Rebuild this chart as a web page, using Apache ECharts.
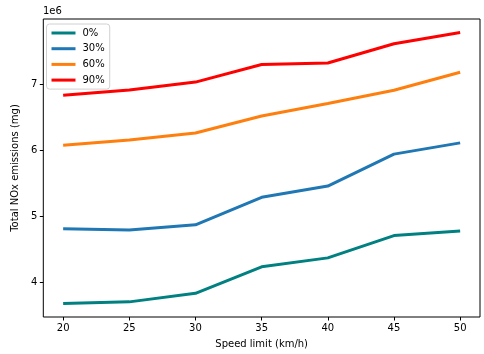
<!DOCTYPE html>
<html><head><meta charset="utf-8">
<script src="https://cdn.jsdelivr.net/npm/echarts@6/dist/echarts.min.js"></script>
<style>html,body{margin:0;padding:0;background:#fff}#c{width:484px;height:354px}</style>
</head><body><div id="c"></div>
<script>
const speeds = [20, 25, 30, 35, 40, 45, 50];
const xTicks = [20, 25, 30, 35, 40, 45, 50];
const yTicks = [4e6, 5e6, 6e6, 7e6];
const seriesNames = ['0%', '30%', '60%', '90%'];
const s0 = [3678000, 3704000, 3834000, 4235000, 4370000, 4707000, 4776000];
const s30 = [4810000, 4790000, 4870000, 5286000, 5457000, 5940000, 6110000];
const s60 = [6075000, 6155000, 6260000, 6516000, 6707000, 6907000, 7180000];
const s90 = [6830000, 6910000, 7030000, 7296000, 7320000, 7610000, 7780000];
const colors = ['#008080', '#1f77b4', '#ff7f0e', '#ff0000'];

const allData = [s0, s30, s60, s90];
const font = 'DejaVu Sans';
const chart = echarts.init(document.getElementById('c'), null, {renderer: 'canvas'});
chart.setOption({
  animation: false,
  textStyle: {fontFamily: font},
  grid: {left: 43.3, top: 19, right: 4, bottom: 36, show: true, borderColor: '#000', borderWidth: 1, backgroundColor: 'transparent'},
  graphic: [{type: 'text', left: 43, top: 6, style: {text: '1e6', fontFamily: font, fontSize: 10, fill: '#000'}}],
  legend: {
    left: 46.5, top: 24, orient: 'vertical',
    data: seriesNames,
    icon: 'rect', itemWidth: 24, itemHeight: 3, itemGap: 3.7,
    padding: [3, 5, 3, 5],
    borderColor: '#d0d0d0', borderWidth: 1, borderRadius: 3,
    backgroundColor: 'rgba(255,255,255,0.8)',
    textStyle: {fontFamily: font, fontSize: 10, color: '#000', lineHeight: 12, padding: [0, 0, 0, 2]}
  },
  xAxis: {
    type: 'value', min: 18.5, max: 51.5,
    name: 'Speed limit (km/h)', nameLocation: 'middle', nameGap: 22,
    nameTextStyle: {fontFamily: font, fontSize: 10, color: '#000'},
    axisLine: {show: false},
    axisTick: {show: true, length: 3.5, lineStyle: {color: '#000'}, customValues: xTicks},
    axisLabel: {fontFamily: font, fontSize: 10, color: '#000', margin: 6, customValues: xTicks},
    splitLine: {show: false}
  },
  yAxis: {
    type: 'value', min: 3.475e6, max: 7.985e6,
    name: 'Total NOx emissions (mg)', nameLocation: 'middle', nameGap: 19,
    nameTextStyle: {fontFamily: font, fontSize: 10, color: '#000'},
    axisLine: {show: false},
    axisTick: {show: true, length: 3.5, lineStyle: {color: '#000'}, customValues: yTicks},
    axisLabel: {fontFamily: font, fontSize: 10, color: '#000', margin: 6, customValues: yTicks,
      formatter: v => String(Math.round(v / 1e6))},
    splitLine: {show: false}
  },
  series: seriesNames.map((n, i) => ({
    name: n, type: 'line', showSymbol: false, symbol: 'none',
    data: speeds.map((s, j) => [s, allData[i][j]]),
    lineStyle: {width: 3, color: colors[i]}, itemStyle: {color: colors[i]}
  }))
});
</script></body></html>
